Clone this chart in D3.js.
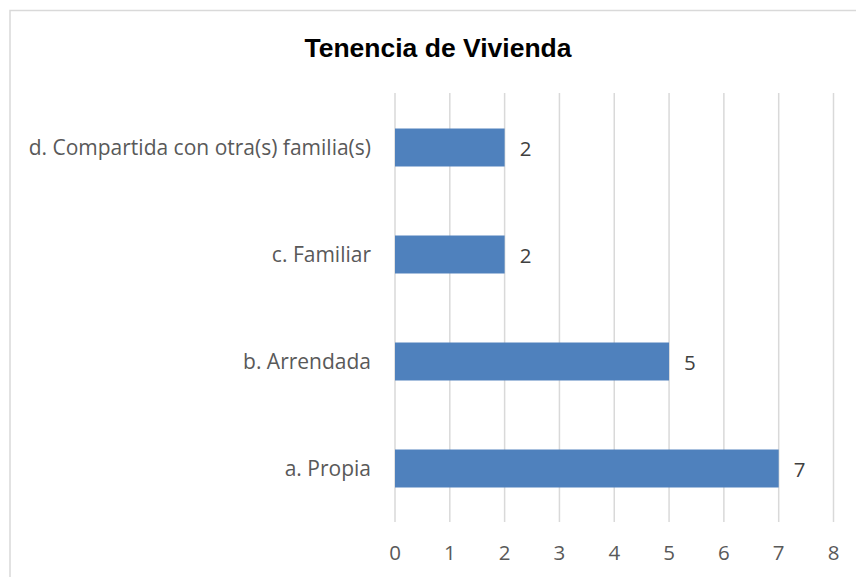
<!DOCTYPE html>
<html lang="es">
<head>
<meta charset="UTF-8">
<title>Tenencia de Vivienda</title>
<script src="https://d3js.org/d3.v7.min.js"></script>
<style>
  body { margin: 0; background: #fff; }
</style>
</head>
<body>
<div id="chart"></div>
<script>
// data
const categories = ["d. Compartida con otra(s) familia(s)", "c. Familiar", "b. Arrendada", "a. Propia"];
const values = [2, 2, 5, 7];
const xTicks = [0, 1, 2, 3, 4, 5, 6, 7, 8];
const chartTitle = "Tenencia de Vivienda";

const width = 856, height = 577;
const labelFont = "'Open Sans', sans-serif";

const svg = d3.select("#chart").append("svg")
    .attr("width", width)
    .attr("height", height);

// chart border (runs off the right/bottom edge)
svg.append("rect")
    .attr("x", 10).attr("y", 10.5)
    .attr("width", 860).attr("height", 580)
    .attr("fill", "#fff")
    .attr("stroke", "#d9d9d9")
    .attr("stroke-width", 1.5);

const x = d3.scaleLinear().domain([0, 8]).range([395, 833.5]);
const y = d3.scaleBand().domain(categories).range([94, 522]).paddingInner(0.645).paddingOuter(0.3225);

// gridlines
svg.append("g").selectAll("line")
    .data(xTicks).join("line")
    .attr("x1", d => x(d)).attr("x2", d => x(d))
    .attr("y1", 93).attr("y2", 522)
    .attr("stroke", "#d9d9d9")
    .attr("stroke-width", 1.5);

// bars
svg.append("g").selectAll("rect")
    .data(values).join("rect")
    .attr("x", x(0))
    .attr("y", (d, i) => y(categories[i]))
    .attr("width", d => x(d) - x(0))
    .attr("height", y.bandwidth())
    .attr("fill", "#4f81bd");

// value labels
svg.append("g").selectAll("text")
    .data(values).join("text")
    .attr("x", d => x(d) + 15)
    .attr("y", (d, i) => y(categories[i]) + y.bandwidth() / 2 + 1.5)
    .attr("dy", "0.35em")
    .attr("font-family", labelFont)
    .attr("font-size", 20.5)
    .attr("fill", "#404040")
    .text(d => d);

// category labels
svg.append("g").selectAll("text")
    .data(categories).join("text")
    .attr("x", 371)
    .attr("y", d => y(d) + y.bandwidth() / 2 + 0.5)
    .attr("dy", "0.35em")
    .attr("text-anchor", "end")
    .attr("font-family", labelFont)
    .attr("font-size", 21)
    .attr("fill", "#595959")
    .text(d => d);

// x tick labels
svg.append("g").selectAll("text")
    .data(xTicks).join("text")
    .attr("x", d => x(d))
    .attr("y", 553)
    .attr("dy", "0.35em")
    .attr("text-anchor", "middle")
    .attr("font-family", labelFont)
    .attr("font-size", 20.5)
    .attr("fill", "#595959")
    .text(d => d);

// title
svg.append("text")
    .attr("x", 438)
    .attr("y", 57)
    .attr("text-anchor", "middle")
    .attr("font-family", "'Liberation Sans', Arial, sans-serif")
    .attr("font-weight", "bold")
    .attr("font-size", 26.5)
    .attr("fill", "#000")
    .text(chartTitle);
</script>
</body>
</html>
